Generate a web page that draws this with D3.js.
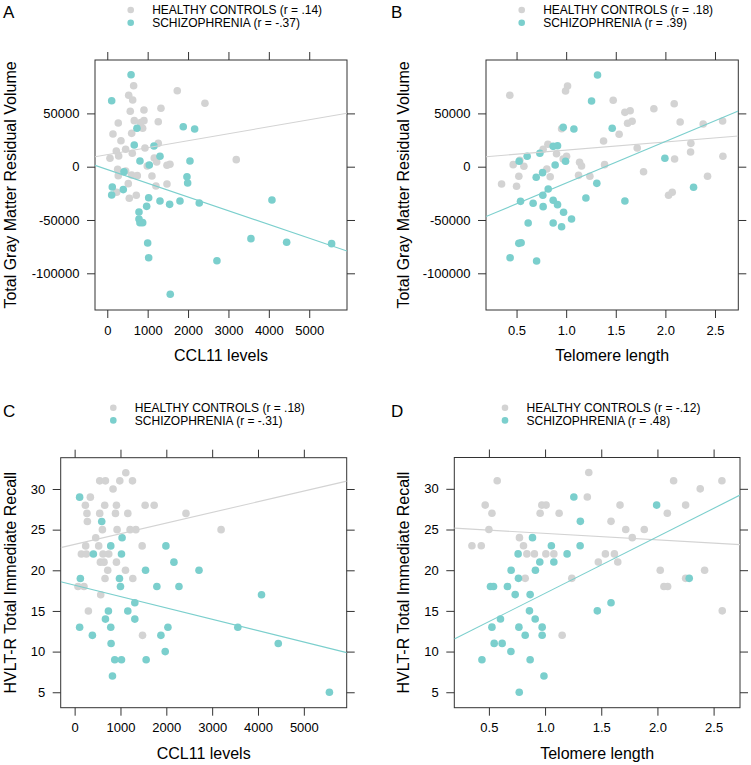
<!DOCTYPE html>
<html><head><meta charset="utf-8">
<script src="https://cdn.jsdelivr.net/npm/d3@7"></script>
<style>
body{margin:0;background:#fff}
text{font-family:"Liberation Sans",Arial,Helvetica,sans-serif;fill:#000}
</style>
</head><body>
<svg id="chart" width="751" height="765"></svg>
<script>
// ---------- DATA ----------
const groups = ["HEALTHY CONTROLS", "SCHIZOPHRENIA"];
const panelLetters = ["A", "B", "C", "D"];
const rValues = {A: [".14", "-.37"], B: [".18", ".39"], C: [".18", "-.31"], D: ["-.12", ".48"]};
const xTitles = {A: "CCL11 levels", B: "Telomere length", C: "CCL11 levels", D: "Telomere length"};
const yTitles = {A: "Total Gray Matter Residual Volume", B: "Total Gray Matter Residual Volume",
                 C: "HVLT-R Total Immediate Recall", D: "HVLT-R Total Immediate Recall"};
const ccl11Ticks = [0, 1000, 2000, 3000, 4000, 5000];
const telomereTicks = [0.5, 1.0, 1.5, 2.0, 2.5];
const gmvTicks = [-100000, -50000, 0, 50000];
const hvltTicks = [5, 10, 15, 20, 25, 30];

// [x, y] pairs
const A_hc = [[653,76000],[530,67000],[629,62600],[1733,71300],[2418,59500],[569,52000],[908,53200],[1329,54800],[272,41000],[668,43200],[908,43200],[826,41300],[1262,42200],[876,36000],[141,30700],[604,31300],[339,24400],[1262,21900],[933,17500],[455,16300],[223,14700],[282,10000],[67,7900],[619,12600],[1163,8200],[1223,4400],[990,650],[1478,1300],[1552,2250],[3193,6600],[257,-2450],[272,-8400],[455,-4000],[604,-7800],[743,-8400],[1106,-8700],[520,-15900],[1205,-18100],[1478,-16200],[232,-24000],[545,-29600],[718,-26800]];
const A_sz = [[589,86300],[109,61900],[735,36000],[668,20350],[1156,19400],[809,5350],[1040,1600],[1305,9750],[1881,37500],[2163,35400],[2047,5350],[413,-4700],[1973,-9400],[1990,-15300],[124,-19000],[396,-21500],[109,-26500],[1025,-29100],[1305,-32200],[1544,-35300],[1800,-32200],[2277,-34100],[975,-37200],[785,-42500],[785,-49100],[809,-52500],[876,-52500],[4077,-31200],[1000,-71600],[1025,-85400],[3557,-67500],[4441,-70900],[5554,-72200],[2715,-88200],[1559,-119700]];
const B_hc = [[0.432,67000],[0.994,71000],[1.014,75700],[1.474,62300],[1.592,51000],[1.645,52500],[1.884,54400],[2.089,59100],[1.619,40700],[1.665,42600],[2.149,41900],[2.381,40000],[2.577,42900],[0.954,35600],[1.534,30400],[1.377,24100],[0.816,21000],[0.768,16300],[0.903,12200],[1.004,9750],[0.97,7200],[1.716,17500],[2.257,21900],[2.254,13800],[2.093,7200],[2.58,9750],[0.466,1900],[0.533,6000],[0.574,375],[1.135,4100],[1.155,650],[1.387,1900],[0.805,-2150],[1.78,-4700],[0.523,-9000],[0.839,-9400],[1.125,-8100],[1.239,-9000],[2.425,-9000],[0.349,-16200],[0.5,-18400],[2.032,-26800],[2.069,-24000]];
const B_sz = [[1.316,86000],[1.256,61600],[0.97,36900],[1.078,35400],[1.464,36000],[0.869,19100],[0.913,19700],[0.735,12600],[0.607,9750],[0.526,5050],[0.889,1600],[0.994,5050],[1.995,7900],[0.762,-5600],[0.698,-9900],[0.819,-20900],[1.309,-15600],[2.284,-19300],[0.765,-26800],[0.54,-32500],[0.667,-34300],[0.768,-37500],[0.869,-31500],[0.913,-35600],[1.199,-29400],[1.592,-32200],[0.974,-42800],[1.054,-49100],[0.617,-52800],[0.869,-52800],[0.954,-56300],[0.523,-71900],[0.546,-71300],[0.435,-85400],[0.702,-88500]];
const C_hc = [[1116,32],[547,31],[672,31],[985,31],[1262,31],[838,30],[343,29],[234,28],[656,28],[912,28],[1538,28],[1735,28],[269,27],[547,27],[891,27],[1160,27],[2429,27],[278,26],[606,25],[926,25],[1210,25],[1335,25],[3195,25],[460,24],[241,23],[525,23],[1473,23],[147,22],[256,22],[619,22],[744,22],[562,21],[641,21],[912,21],[722,20],[1109,20],[663,19],[1269,19],[73,18],[204,18],[569,17],[300,15],[1481,12]];
const C_sz = [[109,29],[591,26],[1035,24],[788,23],[1991,23],[409,22],[1022,22],[2166,21],[1547,20],[2713,20],[125,19],[978,19],[1000,18],[1794,18],[2276,18],[4077,17],[1313,16],[737,15],[1160,15],[672,14],[1313,14],[109,13],[788,13],[2035,13],[3560,13],[387,12],[1882,12],[795,11],[4442,11],[1976,10],[875,9],[1022,9],[1560,9],[825,7],[5558,5]];
const D_hc = [[1.389,32],[0.574,31],[2.144,31],[2.574,31],[2.381,30],[1.376,29],[0.467,28],[0.971,28],[1.009,28],[1.667,28],[2.251,28],[0.527,27],[0.956,27],[1.125,27],[2.088,27],[1.587,26],[0.5,25],[1.718,25],[1.883,25],[0.772,24],[1.776,24],[0.349,23],[0.432,23],[0.808,23],[0.838,22],[0.905,22],[1.007,22],[1.078,22],[1.537,22],[1.617,22],[1.474,21],[1.647,21],[2.025,20],[2.42,20],[0.823,19],[1.238,19],[2.251,19],[2.058,18],[2.091,18],[2.577,15],[1.152,12]];
const D_sz = [[1.256,29],[1.993,28],[1.314,26],[0.888,24],[1.056,23],[1.312,23],[0.76,22],[1.196,22],[0.953,21],[1.078,21],[0.698,20],[0.914,20],[0.763,19],[2.283,19],[0.514,18],[0.541,18],[0.665,18],[0.734,17],[0.867,17],[1.587,16],[0.861,15],[1.465,15],[0.603,14],[0.912,14],[0.527,13],[0.767,13],[0.974,13],[0.823,12],[0.974,12],[0.547,11],[0.618,11],[0.696,10],[0.438,9],[0.867,9],[0.99,7],[0.77,5]];

// regression lines: [intercept, slope] for [healthy, schizophrenia]
const A_fit = [[11364, 6.527], [-2606, -12.89]];
const B_fit = [[7930, 7631], [-54302, 38959]];
const C_fit = [[23.19, 0.0013103], [18.163, -0.0013966]];
const D_fit = [[25.32, -0.795], [10.20, 6.957]];

// axis limits
const ccl11Domain = [-304, 5935];
const telomereDomain = [0.192, 2.735];
const gmvDomain = [-134430, 100090];
const hvltDomain = [3.1, 33.85];

// ---------- STYLE / LAYOUT ----------
const colors = ["#d3d3d3", "#7bcfcd"];
const frameColor = "#333";
const layout = {
  A: {l: 95, r: 347, t: 60, b: 310, legX: 130.7, legY: 10, letterX: 3, letterY: 18, yTitleX: 16},
  B: {l: 486, r: 738.3, t: 60, b: 310, legX: 521.7, legY: 10, letterX: 391, letterY: 18, yTitleX: 409},
  C: {l: 60.7, r: 346.7, t: 457.7, b: 707.7, legX: 113.3, legY: 407.7, letterX: 3, letterY: 416.5, yTitleX: 16},
  D: {l: 454.3, r: 740, t: 457.5, b: 707.7, legX: 505, legY: 407.7, letterX: 391, letterY: 416.5, yTitleX: 409}
};
const panelData = {
  A: {hc: A_hc, sz: A_sz, fit: A_fit, xd: ccl11Domain, yd: gmvDomain, xt: ccl11Ticks, yt: gmvTicks, xf: d => String(d)},
  B: {hc: B_hc, sz: B_sz, fit: B_fit, xd: telomereDomain, yd: gmvDomain, xt: telomereTicks, yt: gmvTicks, xf: d => d.toFixed(1)},
  C: {hc: C_hc, sz: C_sz, fit: C_fit, xd: ccl11Domain, yd: hvltDomain, xt: ccl11Ticks, yt: hvltTicks, xf: d => String(d)},
  D: {hc: D_hc, sz: D_sz, fit: D_fit, xd: telomereDomain, yd: hvltDomain, xt: telomereTicks, yt: hvltTicks, xf: d => d.toFixed(1)}
};

const svg = d3.select("#chart");
const TICK = 8;

panelLetters.forEach(id => {
  const L = layout[id], P = panelData[id];
  const g = svg.append("g");
  const x = d3.scaleLinear().domain(P.xd).range([L.l, L.r]);
  const y = d3.scaleLinear().domain(P.yd).range([L.b, L.t]);

  // panel letter
  g.append("text").attr("x", L.letterX).attr("y", L.letterY)
    .style("font-size", "17px").text(id);

  // legend
  groups.forEach((name, i) => {
    const ly = L.legY + i * 12.7;
    g.append("circle").attr("cx", L.legX).attr("cy", ly).attr("r", 3.3).attr("fill", colors[i]);
    g.append("text").attr("x", L.legX + 21.5).attr("y", ly).attr("dy", "0.36em")
      .style("font-size", "12px").text(`${name} (r = ${rValues[id][i]})`);
  });

  // clip
  const clipId = "clip" + id;
  g.append("clipPath").attr("id", clipId).append("rect")
    .attr("x", L.l).attr("y", L.t).attr("width", L.r - L.l).attr("height", L.b - L.t);

  // axes (lattice style: ticks on all sides, labels left & bottom)
  const axB = d3.axisBottom(x).tickValues(P.xt).tickFormat(P.xf).tickSizeInner(TICK).tickSizeOuter(0).tickPadding(7.5);
  const axT = d3.axisTop(x).tickValues(P.xt).tickFormat("").tickSizeInner(TICK).tickSizeOuter(0);
  const axL = d3.axisLeft(y).tickValues(P.yt).tickFormat(d => String(d)).tickSizeInner(TICK).tickSizeOuter(0).tickPadding(7.5);
  const axR = d3.axisRight(y).tickValues(P.yt).tickFormat("").tickSizeInner(TICK).tickSizeOuter(0);
  const axes = [
    g.append("g").attr("transform", `translate(0,${L.b})`).call(axB),
    g.append("g").attr("transform", `translate(0,${L.t})`).call(axT),
    g.append("g").attr("transform", `translate(${L.l},0)`).call(axL),
    g.append("g").attr("transform", `translate(${L.r},0)`).call(axR)
  ];
  axes.forEach(a => {
    a.select(".domain").remove();
    a.selectAll("line").attr("stroke", frameColor);
    a.selectAll("text").style("font-size", "13px").attr("fill", "#000");
  });

  // frame
  g.append("rect").attr("x", L.l).attr("y", L.t).attr("width", L.r - L.l).attr("height", L.b - L.t)
    .attr("fill", "none").attr("stroke", frameColor).attr("stroke-width", 1);

  const plot = g.append("g").attr("clip-path", `url(#${clipId})`);
  // points: healthy first, then schizophrenia on top
  [P.hc, P.sz].forEach((pts, i) => {
    plot.selectAll(null).data(pts).enter().append("circle")
      .attr("cx", d => x(d[0])).attr("cy", d => y(d[1])).attr("r", 3.8)
      .attr("fill", colors[i]);
  });
  // regression lines
  P.fit.forEach((f, i) => {
    const [a, b] = f;
    plot.append("line")
      .attr("x1", x(P.xd[0])).attr("y1", y(a + b * P.xd[0]))
      .attr("x2", x(P.xd[1])).attr("y2", y(a + b * P.xd[1]))
      .attr("stroke", colors[i]).attr("stroke-width", 1.1);
  });

  // axis titles
  g.append("text").attr("x", (L.l + L.r) / 2).attr("y", L.b + 51)
    .attr("text-anchor", "middle").style("font-size", "16px").text(xTitles[id]);
  g.append("text").attr("transform", `translate(${L.yTitleX},${(L.t + L.b) / 2}) rotate(-90)`)
    .attr("text-anchor", "middle").style("font-size", "16px").text(yTitles[id]);
});
</script>
</body></html>
